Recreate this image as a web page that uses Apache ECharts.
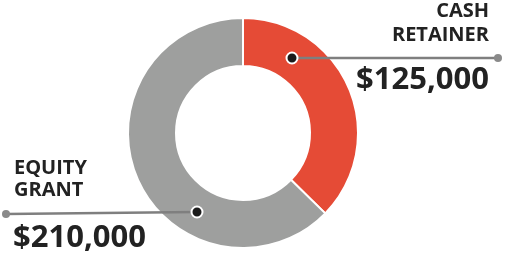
<!DOCTYPE html>
<html>
<head>
<meta charset="utf-8">
<script src="https://cdn.jsdelivr.net/npm/echarts@6/dist/echarts.min.js"></script>
<style>html,body{margin:0;padding:0;background:#fff}#c{width:506px;height:256px}</style>
</head>
<body>
<div id="c"></div>
<script>
const categories = ['CASH\nRETAINER', 'EQUITY\nGRANT'];
const values = [125000, 210000];
const valueLabels = ['$125,000', '$210,000'];
const colors = ['#E54B36', '#9E9F9E'];

const chart = echarts.init(document.getElementById('c'), null, {renderer: 'canvas'});
const font = '"Open Sans", Lato, sans-serif';
const cx = 243, cy = 133;
const dotR = 5.5;
function dot(x, y) {
  return {type: 'circle', shape: {cx: x, cy: y, r: dotR}, style: {fill: '#1b1b1b', stroke: '#fff', lineWidth: 2}, z: 10};
}
chart.setOption({
  animation: false,
  series: [{
    type: 'pie',
    center: [cx, cy],
    radius: [67, 115],
    startAngle: 90,
    clockwise: true,
    silent: true,
    label: {show: false},
    labelLine: {show: false},
    itemStyle: {borderColor: '#fff', borderWidth: 2},
    data: categories.map((c, i) => ({name: c, value: values[i], itemStyle: {color: colors[i]}}))
  }],
  graphic: [
    {type: 'line', shape: {x1: 292, y1: 58, x2: 498, y2: 58}, style: {stroke: '#7f7f7f', lineWidth: 2.5}, z: 5},
    {type: 'circle', shape: {cx: 498, cy: 58, r: 4}, style: {fill: '#8a8a8a'}, z: 5},
    dot(292, 58),
    {type: 'line', shape: {x1: 197, y1: 212, x2: 6, y2: 214}, style: {stroke: '#7f7f7f', lineWidth: 2.5}, z: 5},
    {type: 'circle', shape: {cx: 6, cy: 214, r: 4}, style: {fill: '#8a8a8a'}, z: 5},
    dot(197, 212),
    {type: 'text', x: 489, y: 0, style: {text: categories[0], align: 'right', verticalAlign: 'top', font: 'bold 20px ' + font, lineHeight: 23.5, fill: '#222'}},
    {type: 'text', x: 489, y: 80, style: {text: valueLabels[0], align: 'right', verticalAlign: 'middle', font: 'bold 31px ' + font, fill: '#222'}},
    {type: 'text', x: 14, y: 157, style: {text: categories[1], align: 'left', verticalAlign: 'top', font: 'bold 20px ' + font, lineHeight: 22, fill: '#222'}},
    {type: 'text', x: 13, y: 238, style: {text: valueLabels[1], align: 'left', verticalAlign: 'middle', font: 'bold 31px ' + font, fill: '#222'}}
  ]
});
</script>
</body>
</html>
